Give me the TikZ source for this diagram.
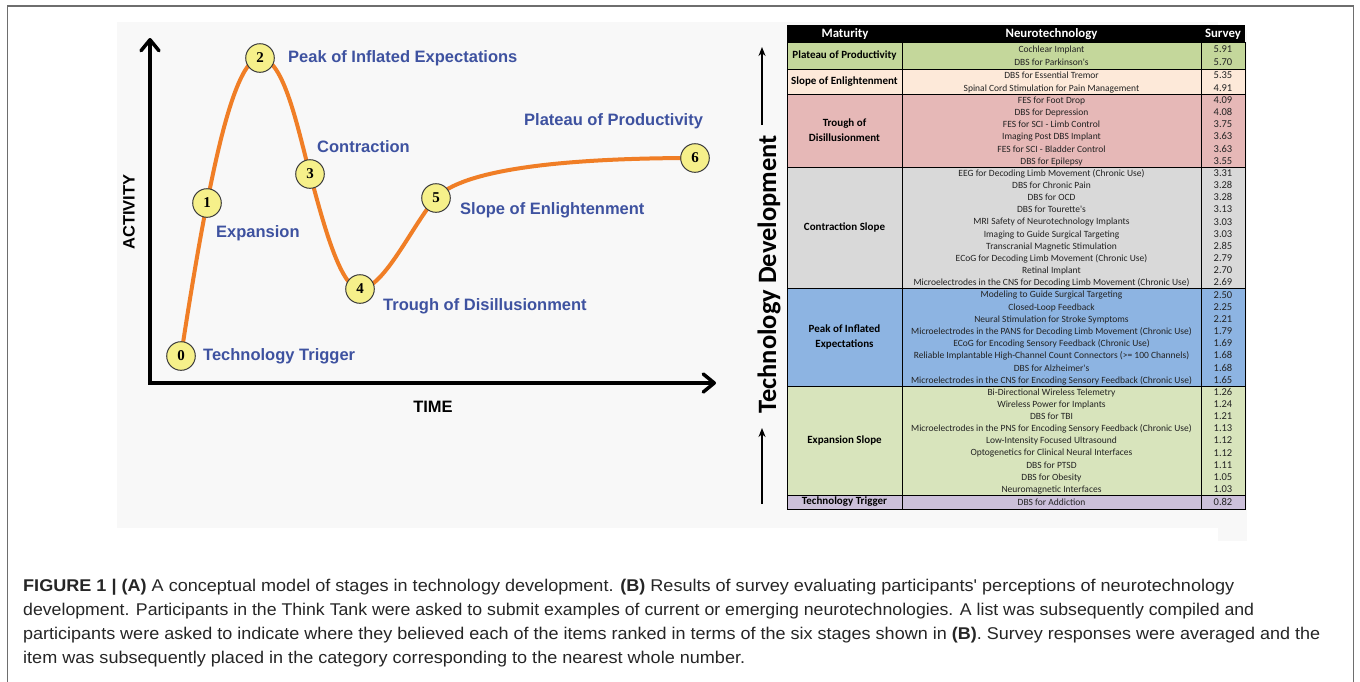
\documentclass[tikz,border=0pt]{standalone}
\usepackage{fontspec}
\usepackage{graphicx}
\setmainfont{Liberation Sans}
\newfontfamily\calib{Carlito}
\newfontfamily\arialf{Liberation Sans}
\newfontfamily\timesf{Liberation Serif}
\usetikzlibrary{arrows.meta}
\definecolor{orng}{RGB}{240,126,38}
\definecolor{lblue}{RGB}{62,82,160}
\definecolor{cyel}{RGB}{246,240,138}
\definecolor{panel}{RGB}{248,248,248}
\definecolor{frmcol}{RGB}{110,110,110}
\definecolor{cPP}{RGB}{196,215,155}
\definecolor{cSE}{RGB}{253,233,217}
\definecolor{cTD}{RGB}{230,184,183}
\definecolor{cCS}{RGB}{217,217,217}
\definecolor{cPE}{RGB}{141,180,226}
\definecolor{cES}{RGB}{216,228,188}
\definecolor{cTT}{RGB}{204,192,218}
\definecolor{captxt}{RGB}{38,38,38}
\definecolor{tabtxt}{RGB}{35,35,35}
\newcommand\tgroup[4]{%
  \foreach \t/\v [count=\i] in {#4} {
    \node[tabitem] (#1\i) at (1051.5,{#2+(\i-0.5)*#3+3.3}) {\t};
    \node[tabval] (#1v\i) at (1223,{#2+(\i-0.5)*#3+3.4}) {\v};
  }}
\begin{document}
\begin{tikzpicture}[x=1pt,y=-1pt,
  stagenode/.style={circle,fill=cyel,draw={rgb,255:red,60;green,60;blue,60},line width=1pt,
    minimum size=28.6pt,inner sep=0pt,font=\timesf\bfseries\fontsize{15}{15}\selectfont},
  slabel/.style={anchor=west,inner sep=0pt,text=lblue,font=\arialf\bfseries\fontsize{16.5}{19}\selectfont},
  axislabel/.style={inner sep=0pt,font=\arialf\bfseries\fontsize{16.5}{19}\selectfont},
  hypecurve/.style={draw=orng,line width=4pt},
  axisline/.style={line width=3.5pt,{Straight Barb[length=11pt,width=18pt,round]}-{Straight Barb[length=11pt,width=18pt,round]}},
  tdarrow/.style={line width=1.6pt,-{Stealth[length=9pt,width=7pt]}},
  tabitem/.style={anchor=base,inner sep=0pt,text=tabtxt,font=\calib\fontsize{9.5}{11}\selectfont},
  tabval/.style={anchor=base,inner sep=0pt,text=tabtxt,font=\calib\fontsize{10.5}{11}\selectfont},
  glabel/.style={inner sep=0pt,align=center,text=black,font=\calib\bfseries\fontsize{11}{15}\selectfont},
  tabhead/.style={anchor=base,inner sep=0pt,text=white,font=\calib\bfseries\fontsize{12.8}{14}\selectfont},
  tline/.style={draw=black,line width=0.9pt},
  capline/.style={anchor=base west,inner sep=0pt,text=captxt,font=\arialf\fontsize{17}{20}\selectfont}]
\useasboundingbox (0,0) rectangle (1360,681);
\fill[white] (0,0) rectangle (1360,681);
% frame
\draw[frmcol,line width=1.5pt] (7.5,700) -- (7.5,6) -- (1353.5,6) -- (1353.5,700);
% panels
\fill[panel] (117,22) rectangle (1218,528);
\fill[panel] (1218,30) rectangle (1247,541);

% ---------- Panel A ----------
\coordinate (ytip) at (150,38);
\coordinate (orig) at (150,383);
\coordinate (xtip) at (716,383);
\draw[axisline] (ytip) -- (orig) -- (xtip);
\node[axislabel,rotate=90] (activity) at (129,212) {ACTIVITY};
\node[axislabel] (time) at (433,407) {TIME};

\coordinate (p0) at (181,356);
\coordinate (p1) at (207,203);
\coordinate (p2) at (260,58);
\coordinate (p3) at (310,174);
\coordinate (p4) at (360,289);
\coordinate (p5) at (436,198);
\coordinate (p6) at (695,158);
\draw[hypecurve] (p0) .. controls (188,310) and (198,248) .. (p1)
  .. controls (216,158) and (236,58) .. (p2)
  .. controls (284,58) and (298,130) .. (p3)
  .. controls (322,218) and (340,289) .. (p4)
  .. controls (384,289) and (414,222) .. (p5)
  .. controls (462,170) and (560,158) .. (p6);
\node[stagenode] (c0) at (p0) {0};
\node[stagenode] (c1) at (p1) {1};
\node[stagenode] (c2) at (p2) {2};
\node[stagenode] (c3) at (p3) {3};
\node[stagenode] (c4) at (p4) {4};
\node[stagenode] (c5) at (p5) {5};
\node[stagenode] (c6) at (p6) {6};

\node[slabel] (lpeak) at (288,58) {Peak of Inflated Expectations};
\node[slabel] (lcontr) at (317,147) {Contraction};
\node[slabel] (lexp) at (216,233) {Expansion};
\node[slabel] (ltrig) at (203,356) {Technology Trigger};
\node[slabel] (ltrough) at (383,306) {Trough of Disillusionment};
\node[slabel] (lslope) at (460,210) {Slope of Enlightenment};
\node[slabel] (lplat) at (524,121) {Plateau of Productivity};

% ---------- Technology Development ----------
\node[rotate=90,anchor=base,inner sep=0pt,font=\calib\bfseries\fontsize{26.5}{28}\selectfont] (tdev) at (776,274.5) {Technology Development};
\coordinate (td1s) at (762,125);
\coordinate (td1e) at (762,47);
\coordinate (td2s) at (762,504);
\coordinate (td2e) at (762,428);
\draw[tdarrow] (td1s) -- (td1e);
\draw[tdarrow] (td2s) -- (td2e);

% ---------- Table ----------
\fill[black] (787,25) rectangle (1245,42);
\fill[cPP] (787,42) rectangle (1245,69);
\fill[cSE] (787,69) rectangle (1245,94);
\fill[cTD] (787,94) rectangle (1245,167);
\fill[cCS] (787,167) rectangle (1245,288.5);
\fill[cPE] (787,288.5) rectangle (1245,386);
\fill[cES] (787,386) rectangle (1245,495);
\fill[cTT] (787,495) rectangle (1245,509);
\draw[tline] (787,42) rectangle (1245,509);
\draw[tline] (902,42) -- (902,509) (1201,42) -- (1201,509);
\foreach \yy in {69,94,167,288.5,386,495} \draw[tline] (787,\yy) -- (1245,\yy);

\node[tabhead] (hmat) at (845,37.2) {Maturity};
\node[tabhead] (hneu) at (1051.5,37.2) {Neurotechnology};
\node[tabhead] (hsur) at (1223,37.2) {Survey};

\node[glabel] (gpp) at (844.5,55.5) {Plateau of Productivity};
\node[glabel] (gse) at (844.5,81.5) {Slope of Enlightenment};
\node[glabel] (gtd) at (844.5,130.5) {Trough of\\Disillusionment};
\node[glabel] (gcs) at (844.5,227.7) {Contraction Slope};
\node[glabel] (gpe) at (844.5,337.2) {Peak of Inflated\\Expectations};
\node[glabel] (ges) at (844.5,440.5) {Expansion Slope};
\node[glabel] (gtt) at (844.5,502) {Technology Trigger};

\tgroup{pp}{42}{13.5}{Cochlear Implant/5.91, DBS for Parkinson's/5.70}
\tgroup{se}{69}{12.5}{DBS for Essential Tremor/5.35, Spinal Cord Stimulation for Pain Management/4.91}
\tgroup{td}{94}{12.1667}{FES for Foot Drop/4.09, DBS for Depression/4.08, FES for SCI - Limb Control/3.75, Imaging Post DBS Implant/3.63, FES for SCI - Bladder Control/3.63, DBS for Epilepsy/3.55}
\tgroup{cs}{167}{12.15}{EEG for Decoding Limb Movement (Chronic Use)/3.31, DBS for Chronic Pain/3.28, DBS for OCD/3.28, DBS for Tourette's/3.13, MRI Safety of Neurotechnology Implants/3.03, Imaging to Guide Surgical Targeting/3.03, Transcranial Magnetic Stimulation/2.85, ECoG for Decoding Limb Movement (Chronic Use)/2.79, Retinal Implant/2.70, Microelectrodes in the CNS for Decoding Limb Movement (Chronic Use)/2.69}
\tgroup{pe}{288.5}{12.1875}{Modeling to Guide Surgical Targeting/2.50, Closed-Loop Feedback/2.25, Neural Stimulation for Stroke Symptoms/2.21, Microelectrodes in the PANS for Decoding Limb Movement (Chronic Use)/1.79, ECoG for Encoding Sensory Feedback (Chronic Use)/1.69, Reliable Implantable High-Channel Count Connectors (>= 100 Channels)/1.68, DBS for Alzheimer's/1.68, Microelectrodes in the CNS for Encoding Sensory Feedback (Chronic Use)/1.65}
\tgroup{es}{386}{12.111}{Bi-Directional Wireless Telemetry/1.26, Wireless Power for Implants/1.24, DBS for TBI/1.21, Microelectrodes in the PNS for Encoding Sensory Feedback (Chronic Use)/1.13, Low-Intensity Focused Ultrasound/1.12, Optogenetics for Clinical Neural Interfaces/1.12, DBS for PTSD/1.11, DBS for Obesity/1.05, Neuromagnetic Interfaces/1.03}
\tgroup{tt}{495}{14}{DBS for Addiction/0.82}

% ---------- Caption ----------
\node[capline] (cap1) at (23,591) {\resizebox{1211pt}{\height}{\textbf{FIGURE 1 | (A)} A conceptual model of stages in technology development. \textbf{(B)} Results of survey evaluating participants' perceptions of neurotechnology}};
\node[capline] (cap2) at (23,615) {\resizebox{1231pt}{\height}{development. Participants in the Think Tank were asked to submit examples of current or emerging neurotechnologies. A list was subsequently compiled and}};
\node[capline] (cap3) at (23,639) {\resizebox{1297pt}{\height}{participants were asked to indicate where they believed each of the items ranked in terms of the six stages shown in \textbf{(B)}. Survey responses were averaged and the}};
\node[capline] (cap4) at (23,663) {\resizebox{722pt}{\height}{item was subsequently placed in the category corresponding to the nearest whole number.}};
\end{tikzpicture}
\end{document}
